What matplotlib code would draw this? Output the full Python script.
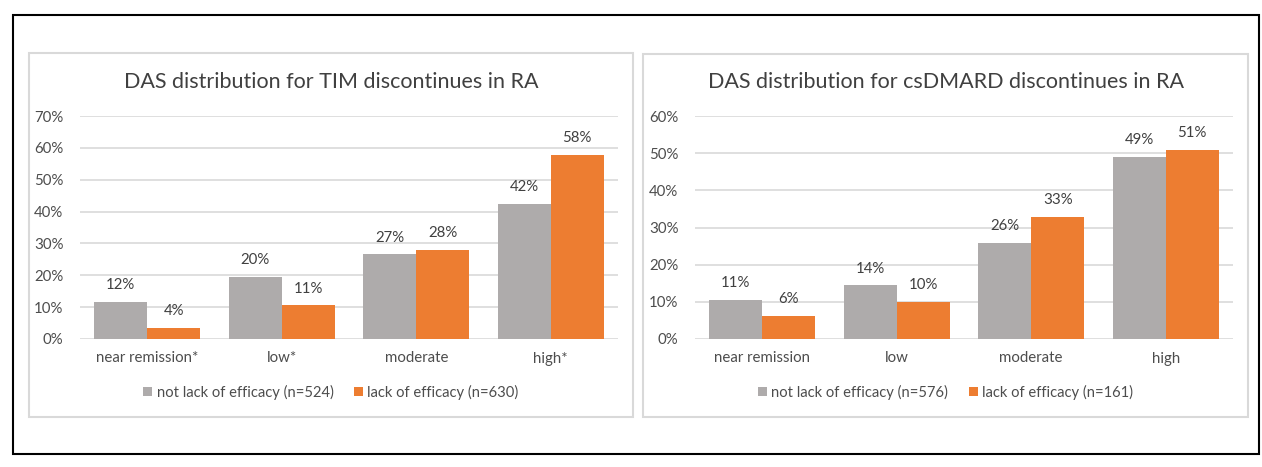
import matplotlib
matplotlib.use("Agg")
import matplotlib.pyplot as plt
from matplotlib.patches import Rectangle
from matplotlib.ticker import PercentFormatter, MultipleLocator
import numpy as np

plt.rcParams['font.family'] = ['Lato', 'DejaVu Sans']

# ---------------- data ----------------
left_title = "DAS distribution for TIM discontinues in RA"
left_categories = ["near remission*", "low*", "moderate", "high*"]
left_not_lack = [11.6, 19.6, 26.6, 42.4]
left_lack = [3.6, 10.6, 28.0, 57.9]
left_series_names = ["not lack of efficacy (n=524)", "lack of efficacy (n=630)"]
left_ymax = 70

right_title = "DAS distribution for csDMARD discontinues in RA"
right_categories = ["near remission", "low", "moderate", "high"]
right_not_lack = [10.6, 14.4, 25.9, 49.1]
right_lack = [6.2, 9.9, 32.9, 50.8]
right_series_names = ["not lack of efficacy (n=576)", "lack of efficacy (n=161)"]
right_ymax = 60

GRAY = "#AEABAB"
ORANGE = "#ED7D31"
GRID = "#D9D9D9"
TXT = "#4D4D4D"
LBL = "#404040"

W, H = 1262, 467
fig = plt.figure(figsize=(W / 100, H / 100), dpi=100)

def px_rect(x0, y0, x1, y1):
    return (x0 / W, 1 - y1 / H, (x1 - x0) / W, (y1 - y0) / H)

# outer border
l, b, w, h = px_rect(13, 15, 1259, 454)
fig.patches.append(Rectangle((l, b), w, h, transform=fig.transFigure,
                             fill=False, edgecolor="black", linewidth=1.5))

def draw_panel(panel_px, ax_px, title, cats, s1, s2, names, ymax):
    px0, py0, px1, py1 = panel_px
    l, b, w, h = px_rect(px0, py0, px1, py1)
    fig.patches.append(Rectangle((l, b), w, h, transform=fig.transFigure,
                                 fill=False, edgecolor=GRID, linewidth=1.5))
    ax = fig.add_axes(px_rect(*ax_px))
    x = np.arange(len(cats))
    bw = 0.395
    b1 = ax.bar(x - bw / 2, s1, bw, color=GRAY, label=names[0], zorder=3)
    b2 = ax.bar(x + bw / 2, s2, bw, color=ORANGE, label=names[1], zorder=3)
    for bars in (b1, b2):
        for r in bars:
            v = r.get_height()
            ax.annotate(f"{v:.0f}%", (r.get_x() + r.get_width() / 2, v),
                        xytext=(0, 7), textcoords="offset points",
                        ha="center", va="bottom", fontsize=10.8, color=LBL)
    ax.set_xlim(-0.5, len(cats) - 0.5)
    ax.set_ylim(0, ymax)
    ax.yaxis.set_major_locator(MultipleLocator(10))
    ax.yaxis.set_major_formatter(PercentFormatter(decimals=0))
    ax.grid(axis="y", color=GRID, linewidth=1.2, zorder=0)
    for s in ax.spines.values():
        s.set_visible(False)
    ax.tick_params(axis="both", length=0, colors=TXT, labelsize=10.8)
    ax.tick_params(axis="y", pad=12)
    ax.tick_params(axis="x", pad=9)
    ax.set_xticks(x)
    ax.set_xticklabels(cats)
    cx = (px0 + px1) / 2 / W
    fig.text(cx, 1 - 82 / H, title, ha="center", va="center",
             fontsize=15.5, color=LBL)
    fig.legend(handles=[b1, b2], labels=names, loc="center",
               bbox_to_anchor=(cx, 1 - 392 / H), ncol=2, frameon=False,
               fontsize=10.6, handlelength=0.6, handleheight=0.6,
               handletextpad=0.3, columnspacing=1.4, labelcolor=TXT)
    return ax

draw_panel((29, 53, 633, 417), (80, 116, 618, 339), left_title,
           left_categories, left_not_lack, left_lack, left_series_names, left_ymax)
draw_panel((643, 54, 1248, 417), (695, 116, 1233, 339), right_title,
           right_categories, right_not_lack, right_lack, right_series_names, right_ymax)

fig.savefig("out.png", dpi=100, facecolor="white")
